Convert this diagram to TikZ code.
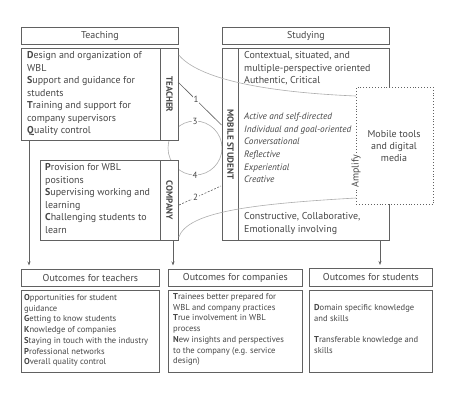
\documentclass[tikz,border=0pt]{standalone}
\usepackage{fontspec}
\setmainfont{PT Sans}
\usetikzlibrary{arrows.meta}
\definecolor{boxc}{gray}{0.38}
\definecolor{txtc}{gray}{0.28}
\definecolor{lightc}{gray}{0.68}
\tikzset{
  box/.style={draw=boxc, line width=0.8bp, fill=white, rectangle, inner sep=0pt, anchor=north west},
  txt/.style={text=txtc, align=left, inner sep=0pt, anchor=north west, font=\fontsize{10}{12.5}\selectfont},
  smalltxt/.style={text=txtc, align=left, inner sep=0pt, anchor=north west, font=\fontsize{8.6}{10.8}\selectfont},
  head/.style={text=txtc, inner sep=0pt, font=\fontsize{10}{12}\selectfont},
  side/.style={text=txtc, inner sep=0pt, font=\bfseries\fontsize{9}{11}\selectfont},
  arr/.style={draw=boxc, line width=0.8bp, -{Stealth[length=4bp,width=3bp]}},
  thin/.style={draw=lightc, line width=0.6bp},
  num/.style={text=txtc, fill=white, inner sep=1pt, font=\fontsize{9}{11}\selectfont}
}
\begin{document}
\begin{tikzpicture}[x=1bp,y=-1bp]
\useasboundingbox (0,0) rectangle (464,400);
% circle behind the boxes
\coordinate (cc) at (195,148);
\draw[thin] (cc) circle (27bp);
% headers
\node[box, minimum width=157bp, minimum height=17bp] (teaching) at (21,27) {};
\node[head] (teachingt) at (teaching.center) {Teaching};
\node[box, minimum width=167bp, minimum height=17bp] (studying) at (222,27) {};
\node[head] (studyingt) at (studying.center) {Studying};
% teacher box
\node[box, minimum width=157bp, minimum height=92bp] (teacher) at (21,48) {};
\node[box, minimum width=18bp, minimum height=92bp] (teachercol) at (160,48) {};
\node[side, rotate=-90] (teacherl) at (teachercol.center) {TEACHER};
\node[txt] (teachertxt) at (27,51.5) {\textbf{D}esign and organization of\\WBL\\\textbf{S}upport and guidance for\\students\\\textbf{T}raining and support for\\company supervisors\\\textbf{Q}uality control};
% company box
\node[box, minimum width=138bp, minimum height=80bp] (company) at (40,160) {};
\node[box, minimum width=18bp, minimum height=80bp] (companycol) at (160,160) {};
\node[side, rotate=-90] (companyl) at (companycol.center) {COMPANY};
\node[txt] (companytxt) at (45,163.5) {\textbf{P}rovision for WBL\\positions\\\textbf{S}upervising working and\\learning\\\textbf{C}hallenging students to\\learn};
% studying box
\node[box, minimum width=167bp, minimum height=192bp] (study) at (222,48) {};
\node[box, minimum width=16bp, minimum height=192bp] (studentcol) at (222,48) {};
\node[side, rotate=-90] (studentl) at (studentcol.center) {MOBILE STUDENT};
\node[txt] (studytxt1) at (244,51.5) {Contextual, situated, and\\multiple-perspective oriented\\Authentic, Critical};
\node[txt, font=\itshape\fontsize{9.3}{12.6}\selectfont] (studytxt2) at (244,113) {Active and self-directed\\Individual and goal-oriented\\Conversational\\Reflective\\Experiential\\Creative};
\node[txt] (studytxt3) at (244,212.5) {Constructive, Collaborative,\\Emotionally involving};
% dotted media box
\node[draw=boxc, line width=0.9bp, dotted, fill=white, rectangle, inner sep=0pt, anchor=north west, minimum width=77bp, minimum height=117bp] (media) at (356,87) {};
\node[head, align=center, font=\fontsize{10}{12.4}\selectfont] (mediat) at (394,146) {Mobile tools\\and digital\\media};
\node[head, rotate=90, fill=white, inner sep=1.5pt] (amplify) at (356,171) {Amplify};
% curves
\coordinate (ct1) at (teacher.north east |- 0,55);
\coordinate (ct2) at (media.west |- 0,96);
\coordinate (cb1) at (company.south east |- 0,237);
\coordinate (cb2) at (media.west |- 0,198);
\draw[thin] (ct1) .. controls (198,78) and (260,92) .. (ct2);
\draw[thin] (cb1) .. controls (188,212) and (250,204) .. (cb2);
% numbered links
\coordinate (l1a) at (178,82);
\coordinate (l1b) at (221.5,125);
\draw[draw=boxc, line width=0.6bp] (l1a) -- (l1b);
\node[num] (n1) at (196,99) {1};
\coordinate (l2a) at (179,205);
\coordinate (l2b) at (221,186);
\draw[draw=boxc, line width=0.6bp, dashed, dash pattern=on 2bp off 1.5bp] (l2a) -- (l2b);
\node[num] (n2) at (195.5,197.5) {2};
\node[num] (n3) at (195,121) {3};
\node[num] (n4) at (195,175) {4};
% outcome boxes
\node[box, minimum width=138bp, minimum height=17bp] (oth) at (21,269) {};
\node[head] (otht) at (oth.center) {Outcomes for teachers};
\node[box, minimum width=138bp, minimum height=82bp] (otb) at (21,290) {};
\node[smalltxt] (otbt) at (24,294) {\textbf{O}pportunities for student\\guidance\\\textbf{G}etting to know students\\\textbf{K}nowledge of companies\\\textbf{S}taying in touch with the industry\\\textbf{P}rofessional networks\\\textbf{O}verall quality control};
\node[box, minimum width=134bp, minimum height=17bp] (och) at (168,269) {};
\node[head] (ocht) at (och.center) {Outcomes for companies};
\node[box, minimum width=134bp, minimum height=82bp] (ocb) at (168,290) {};
\node[smalltxt] (ocbt) at (173,293) {\textbf{T}rainees better prepared for\\WBL and company practices\\\textbf{T}rue involvement in WBL\\process\\\textbf{N}ew insights and perspectives\\to the company (e.g. service\\design)};
\node[box, minimum width=123bp, minimum height=18bp] (osh) at (309,268) {};
\node[head] (osht) at (osh.center) {Outcomes for students};
\node[box, minimum width=123bp, minimum height=82bp] (osb) at (309,290) {};
\node[smalltxt] (osbt) at (314,304) {\textbf{D}omain specific knowledge\\and skills\\[10.8bp]\textbf{T}ransferable knowledge and\\skills};
% arrows
\coordinate (a1) at (29,265.5);
\coordinate (a2) at (173,265.5);
\coordinate (a3) at (380,265);
\draw[arr] (teacher.south -| a1) -- (a1);
\draw[arr] (company.south -| a2) -- (a2);
\draw[arr] (study.south -| a3) -- (a3);
\end{tikzpicture}
\end{document}
